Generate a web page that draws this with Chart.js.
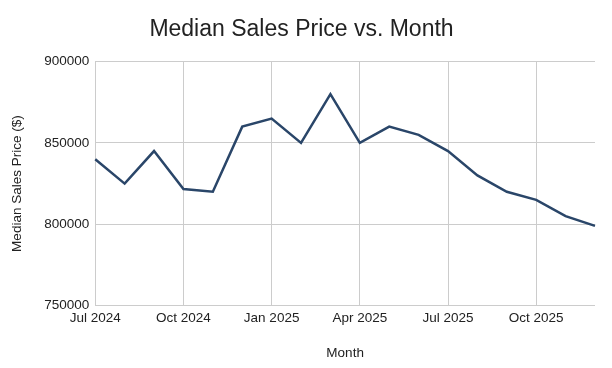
<!DOCTYPE html>
<html>
<head>
<meta charset="utf-8">
<script src="https://cdn.jsdelivr.net/npm/chart.js@4"></script>
<style>
  html, body { margin: 0; padding: 0; background: #fff; }
  #wrap { width: 612px; height: 368px; }
</style>
</head>
<body>
<div id="wrap"><canvas id="chart" width="612" height="368"></canvas></div>
<script>
// monthly medians, Jul 2024 .. Dec 2025
const months = [
  'Jul 2024', 'Aug 2024', 'Sep 2024', 'Oct 2024', 'Nov 2024', 'Dec 2024',
  'Jan 2025', 'Feb 2025', 'Mar 2025', 'Apr 2025', 'May 2025', 'Jun 2025',
  'Jul 2025', 'Aug 2025', 'Sep 2025', 'Oct 2025', 'Nov 2025', 'Dec 2025'
];
const prices = [
  840000, 825000, 845000, 821700, 820000, 860000,
  865000, 850000, 880000, 850000, 860000, 855000,
  845000, 830000, 820000, 815000, 805000, 799000
];
const shownTicks = ['Jul 2024', 'Oct 2024', 'Jan 2025', 'Apr 2025', 'Jul 2025', 'Oct 2025'];

const font = 'Arial, "Liberation Sans", sans-serif';
const textColor = '#222';
const gridColor = '#cccccc';

const ctx = document.getElementById('chart').getContext('2d');
const chart = new Chart(ctx, {
  type: 'line',
  data: {
    labels: months,
    datasets: [{
      data: prices,
      borderColor: '#2a4669',
      borderWidth: 2.5,
      pointRadius: 0,
      tension: 0,
      fill: false
    }]
  },
  options: {
    responsive: false,
    animation: false,
    layout: { padding: { left: 8, right: 17, top: 0, bottom: 0 } },
    plugins: {
      legend: { display: false },
      tooltip: { enabled: false },
      title: {
        display: true,
        text: 'Median Sales Price vs. Month',
        color: textColor,
        font: { family: font, size: 23, weight: 'normal' },
        padding: { top: 16, bottom: 18 }
      }
    },
    scales: {
      x: {
        offset: false,
        grid: { color: gridColor, drawTicks: false, lineWidth: 1 },
        border: { display: false },
        ticks: {
          autoSkip: false,
          maxRotation: 0,
          padding: 5,
          color: textColor,
          font: { family: font, size: 13.5 },
          callback: function (value) {
            const lbl = this.getLabelForValue(value);
            return shownTicks.includes(lbl) ? lbl : null;
          }
        },
        title: {
          display: true,
          text: 'Month',
          color: textColor,
          font: { family: font, size: 13.5 },
          padding: { top: 13, bottom: 7 }
        }
      },
      y: {
        min: 750000,
        max: 900000,
        grid: { color: gridColor, drawTicks: false, lineWidth: 1 },
        border: { display: false },
        ticks: {
          stepSize: 50000,
          padding: 6,
          color: textColor,
          font: { family: font, size: 13.5 },
          callback: v => String(v)
        },
        title: {
          display: true,
          text: 'Median Sales Price ($)',
          color: textColor,
          font: { family: font, size: 13.5 },
          padding: { top: 1, bottom: 13 }
        }
      }
    }
  }
});
</script>
</body>
</html>
